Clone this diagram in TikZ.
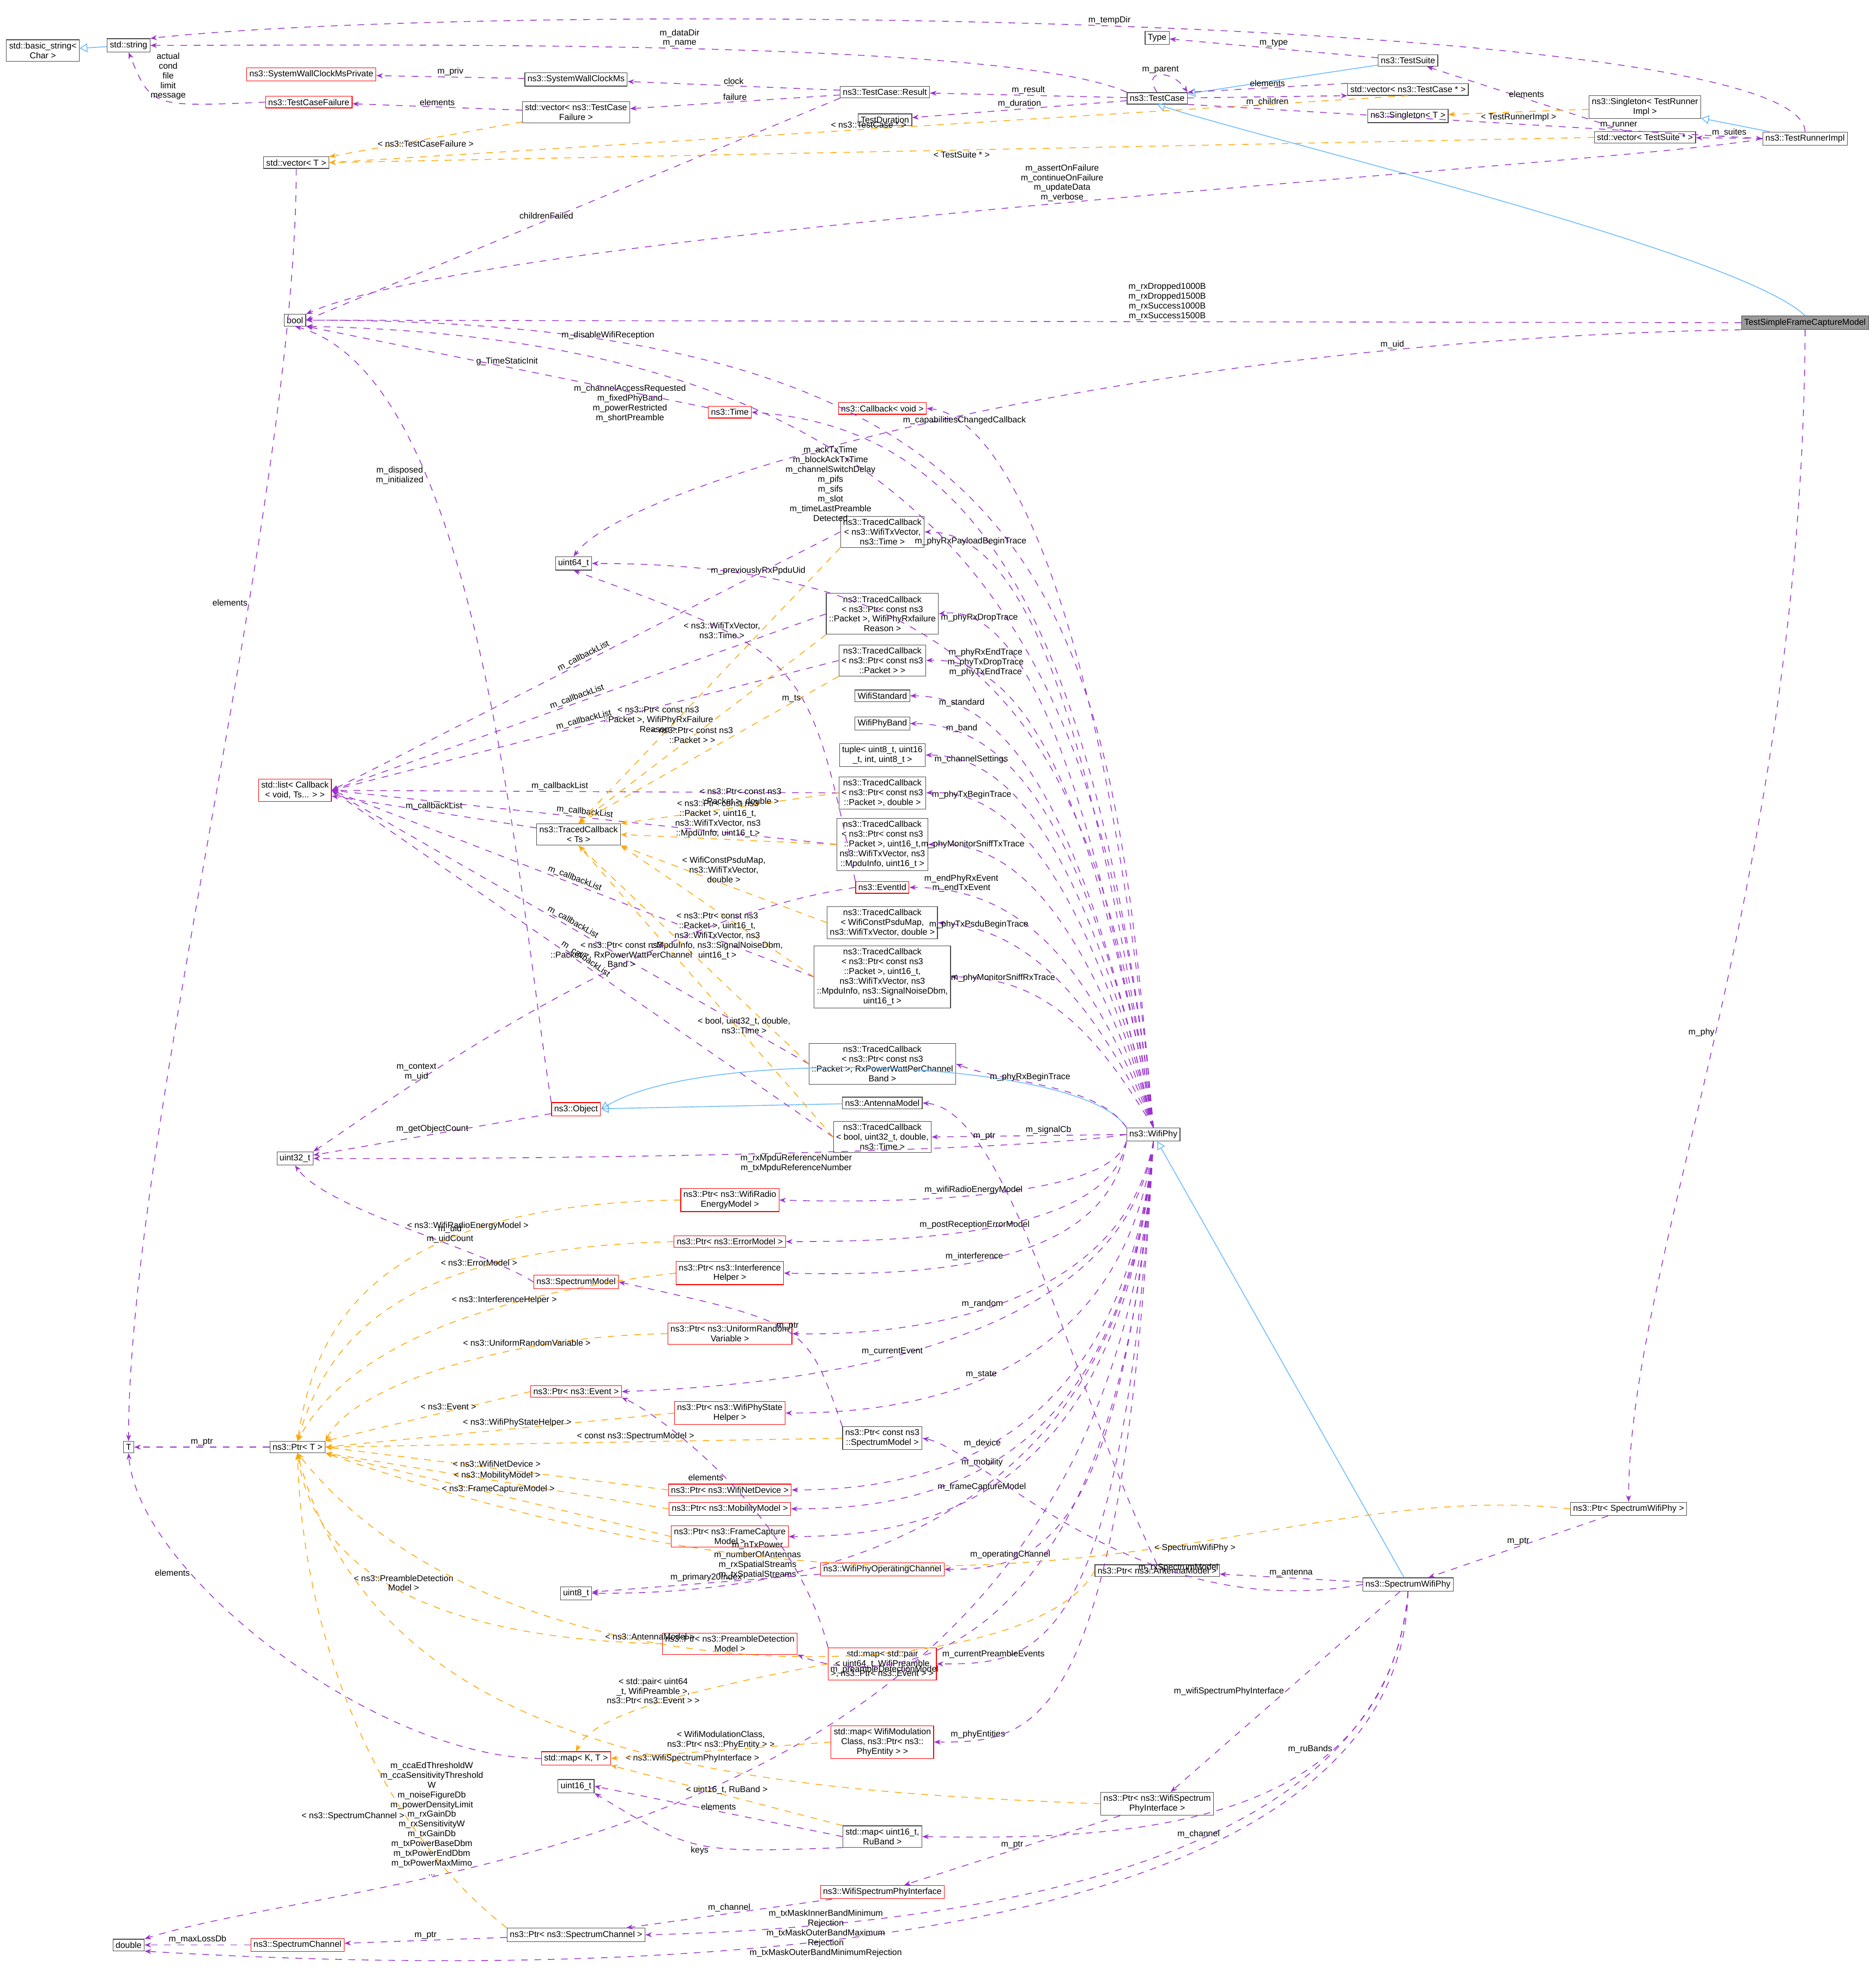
\documentclass[tikz,border=0pt]{standalone}
\usepackage{fontspec}
\setmainfont{Liberation Sans}
\usetikzlibrary{arrows.meta}
\definecolor{usecol}{RGB}{154,50,205}
\definecolor{tplcol}{RGB}{255,165,0}
\definecolor{inhcol}{RGB}{99,184,255}
\begin{document}
\begin{tikzpicture}[x=0.02cm,y=-0.02cm,
  box/.style={draw=black!70, fill=white, line width=0.3pt, inner sep=1.2pt, align=center, font=\fontsize{3.9}{4.4}\selectfont},
  redbox/.style={box, draw=red},
  greybox/.style={box, fill=black!40},
  use/.style={dashed, draw=usecol, line width=0.35pt, -{Stealth[length=3pt]}},
  tpl/.style={dashed, draw=tplcol, line width=0.35pt, -{Stealth[length=3pt]}},
  inh/.style={draw=inhcol, line width=0.35pt, -{Triangle[open,length=3.5pt]}},
  lbl/.style={font=\fontsize{3.9}{4.4}\selectfont, align=center, inner sep=0.5pt}]
\useasboundingbox[fill=white] (0,0) rectangle (1488,1570);

% top: test framework
\node[box] (bstring) at (34,40) {std::basic\_string\textless\\Char \textgreater};
\node[box] (string) at (102,36) {std::string};
\node[redbox] (swcpriv) at (247,59) {ns3::SystemWallClockMsPrivate};
\node[redbox] (tcfail) at (245,81) {ns3::TestCaseFailure};
\node[box] (vect) at (235,129) {std::vector\textless{} T \textgreater};
\node[box] (bool) at (234,254) {bool};
\node[box] (swc) at (457,63) {ns3::SystemWallClockMs};
\node[box] (vecfail) at (457,89) {std::vector\textless{} ns3::TestCase\\Failure \textgreater};
\node[box] (result) at (702,73) {ns3::TestCase::Result};
\node[box] (duration) at (702,95) {TestDuration};
\node[box] (type) at (918,30) {Type};
\node[box] (testcase) at (918,78) {ns3::TestCase};
\node[box] (suite) at (1117,48) {ns3::TestSuite};
\node[box] (veccase) at (1117,71) {std::vector\textless{} ns3::TestCase * \textgreater};
\node[box] (singleton) at (1117,92) {ns3::Singleton\textless{} T \textgreater};
\node[box] (singtri) at (1305,85) {ns3::Singleton\textless{} TestRunner\\Impl \textgreater};
\node[box] (vecsuite) at (1305,109) {std::vector\textless{} TestSuite * \textgreater};
\node[box] (runner) at (1432,110) {ns3::TestRunnerImpl};
\node[greybox] (model) at (1432,256) {TestSimpleFrameCaptureModel};

% left column
\node[box] (u64) at (455,447) {uint64\_t};
\node[redbox] (cblist) at (234,627) {std::list\textless{} Callback\\\textless{} void, Ts... \textgreater{} \textgreater};
\node[box] (tcts) at (459,662) {ns3::TracedCallback\\\textless{} Ts \textgreater};
\node[box] (u32) at (234,919) {uint32\_t};
\node[redbox] (object) at (457,880) {ns3::Object};
\node[redbox] (specmodel) at (457,1017) {ns3::SpectrumModel};
\node[box] (ptrt) at (236,1148) {ns3::Ptr\textless{} T \textgreater};
\node[box] (tt) at (102,1148) {T};
\node[box] (u8) at (457,1264) {uint8\_t};
\node[redbox] (mapkt) at (457,1395) {std::map\textless{} K, T \textgreater};
\node[box] (u16) at (457,1417) {uint16\_t};
\node[box] (double) at (102,1543) {double};
\node[redbox] (specchan) at (236,1543) {ns3::SpectrumChannel};
\node[box] (ptrchan) at (457,1535) {ns3::Ptr\textless{} ns3::SpectrumChannel \textgreater};

% middle column
\node[redbox] (time) at (579,327) {ns3::Time};
\node[redbox] (callback) at (700,324) {ns3::Callback\textless{} void \textgreater};
\node[box] (tctx) at (700,422) {ns3::TracedCallback\\\textless{} ns3::WifiTxVector,\\ ns3::Time \textgreater};
\node[box] (tcdrop) at (700,487) {ns3::TracedCallback\\\textless{} ns3::Ptr\textless{} const ns3\\::Packet \textgreater, WifiPhyRxfailure\\Reason \textgreater};
\node[box] (tcpkt) at (700,524) {ns3::TracedCallback\\\textless{} ns3::Ptr\textless{} const ns3\\::Packet \textgreater{} \textgreater};
\node[box] (standard) at (700,552) {WifiStandard};
\node[box] (band) at (700,574) {WifiPhyBand};
\node[box] (tuple) at (700,599) {tuple\textless{} uint8\_t, uint16\\\_t, int, uint8\_t \textgreater};
\node[box] (tcdbl) at (700,629) {ns3::TracedCallback\\\textless{} ns3::Ptr\textless{} const ns3\\::Packet \textgreater, double \textgreater};
\node[box] (tcstx) at (700,670) {ns3::TracedCallback\\\textless{} ns3::Ptr\textless{} const ns3\\::Packet \textgreater, uint16\_t,\\ ns3::WifiTxVector, ns3\\::MpduInfo, uint16\_t \textgreater};
\node[redbox] (eventid) at (700,704) {ns3::EventId};
\node[box] (tcpsdu) at (700,732) {ns3::TracedCallback\\\textless{} WifiConstPsduMap,\\ ns3::WifiTxVector, double \textgreater};
\node[box] (tcsrx) at (700,775) {ns3::TracedCallback\\\textless{} ns3::Ptr\textless{} const ns3\\::Packet \textgreater, uint16\_t,\\ ns3::WifiTxVector, ns3\\::MpduInfo, ns3::SignalNoiseDbm,\\ uint16\_t \textgreater};
\node[box] (tcpow) at (700,844) {ns3::TracedCallback\\\textless{} ns3::Ptr\textless{} const ns3\\::Packet \textgreater, RxPowerWattPerChannel\\Band \textgreater};
\node[box] (antenna) at (700,875) {ns3::AntennaModel};
\node[box] (tcbool) at (700,902) {ns3::TracedCallback\\\textless{} bool, uint32\_t, double,\\ ns3::Time \textgreater};
\node[box] (wifiphy) at (915,900) {ns3::WifiPhy};
\node[redbox] (penergy) at (579,952) {ns3::Ptr\textless{} ns3::WifiRadio\\EnergyModel \textgreater};
\node[redbox] (perror) at (579,985) {ns3::Ptr\textless{} ns3::ErrorModel \textgreater};
\node[redbox] (pinterf) at (579,1010) {ns3::Ptr\textless{} ns3::Interference\\Helper \textgreater};
\node[redbox] (prandom) at (579,1058) {ns3::Ptr\textless{} ns3::UniformRandom\\Variable \textgreater};
\node[redbox] (pevent) at (457,1104) {ns3::Ptr\textless{} ns3::Event \textgreater};
\node[redbox] (pstate) at (579,1121) {ns3::Ptr\textless{} ns3::WifiPhyState\\Helper \textgreater};
\node[box] (pspecmodel) at (700,1141) {ns3::Ptr\textless{} const ns3\\::SpectrumModel \textgreater};
\node[redbox] (pdevice) at (579,1182) {ns3::Ptr\textless{} ns3::WifiNetDevice \textgreater};
\node[redbox] (pmobility) at (579,1197) {ns3::Ptr\textless{} ns3::MobilityModel \textgreater};
\node[redbox] (pcapture) at (579,1219) {ns3::Ptr\textless{} ns3::FrameCapture\\Model \textgreater};
\node[redbox] (opchan) at (700,1245) {ns3::WifiPhyOperatingChannel};
\node[redbox] (ppreamble) at (579,1304) {ns3::Ptr\textless{} ns3::PreambleDetection\\Model \textgreater};
\node[redbox] (mappre) at (700,1320) {std::map\textless{} std::pair\\\textless{} uint64\_t, WifiPreamble\\ \textgreater, ns3::Ptr\textless{} ns3::Event \textgreater{} \textgreater};
\node[redbox] (mapmod) at (700,1382) {std::map\textless{} WifiModulation\\Class, ns3::Ptr\textless{} ns3::\\PhyEntity \textgreater{} \textgreater};
\node[box] (mapru) at (700,1457) {std::map\textless{} uint16\_t,\\ RuBand \textgreater};
\node[redbox] (wspi) at (700,1501) {ns3::WifiSpectrumPhyInterface};
\node[box] (pantenna) at (918,1246) {ns3::Ptr\textless{} ns3::AntennaModel \textgreater};
\node[box] (pwspi) at (918,1431) {ns3::Ptr\textless{} ns3::WifiSpectrum\\PhyInterface \textgreater};
\node[box] (swphy) at (1117,1257) {ns3::SpectrumWifiPhy};
\node[box] (pswphy) at (1292,1197) {ns3::Ptr\textless{} SpectrumWifiPhy \textgreater};

% inheritance
\draw[inh] (string) -- (bstring);
\draw[inh] (suite) -- (testcase);
\draw[inh] (model.north) .. controls (1380,200) and (1000,110) .. (testcase.south);
\draw[inh] (runner) -- (singtri);
\draw[inh] (wifiphy.north west) .. controls (860,840) and (560,830) .. (object.east);
\draw[inh] (antenna) -- (object);
\draw[inh] (swphy) -- (wifiphy);

% test framework members
\draw[use] (runner.north) .. controls (1430,10) and (400,0) .. node[lbl,pos=0.5,above] {m\_tempDir} (string.north east);
\draw[use] (testcase.north west) .. controls (800,30) and (300,36) .. node[lbl,pos=0.5,above] {m\_dataDir\\m\_name} (string.east);
\draw[use] (testcase.north) .. controls (905,55) and (930,55) .. node[lbl,pos=0.5,above] {m\_parent} (testcase.north east);
\draw[use] (suite) -- node[lbl,above] {m\_type} (type);
\draw[use] (testcase) -- node[lbl,above] {m\_result} (result);
\draw[use] (testcase) -- node[lbl,above] {m\_duration} (duration);
\draw[use] (testcase) -- node[lbl,below] {m\_children} (veccase.south west);
\draw[use] (veccase.north west) -- node[lbl,above] {elements} (testcase.north east);
\draw[use] (result) -- node[lbl,above] {clock} (swc);
\draw[use] (result) -- node[lbl,above] {failure} (vecfail);
\draw[use] (result.south west) -- node[lbl,pos=0.55,above] {childrenFailed} (bool.east);
\draw[use] (swc) -- node[lbl,above] {m\_priv} (swcpriv);
\draw[use] (vecfail) -- node[lbl,above] {elements} (tcfail);
\draw[use] (tcfail.west) .. controls (120,85) .. node[lbl,pos=0.45,above] {actual\\cond\\file\\limit\\message} (string.south);
\draw[tpl] (vecfail) -- node[lbl,below] {\textless{} ns3::TestCaseFailure \textgreater} (vect);
\draw[tpl] (veccase.south) -- node[lbl,pos=0.5,above] {\textless{} ns3::TestCase * \textgreater} (vect.east);
\draw[tpl] (vecsuite.west) -- node[lbl,pos=0.5,below] {\textless{} TestSuite * \textgreater} (vect.east);
\draw[use] (vecsuite) -- node[lbl,above] {elements} (suite);
\draw[tpl] (singtri) -- node[lbl,below] {\textless{} TestRunnerImpl \textgreater} (singleton);
\draw[use] (runner) -- node[lbl,above] {m\_suites} (vecsuite);
\draw[use] (testcase.south east) -- node[lbl,pos=0.75,above] {m\_runner} (runner.west);
\draw[use] (runner.west) .. controls (1300,130) and (400,180) .. node[lbl,pos=0.5,above] {m\_assertOnFailure\\m\_continueOnFailure\\m\_updateData\\m\_verbose} (bool.north east);
\draw[use] (vect.south) .. controls (235,400) and (102,900) .. node[lbl,pos=0.35,left] {elements} (tt.north);
\draw[use] (model.west) -- node[lbl,pos=0.4,above] {m\_rxDropped1000B\\m\_rxDropped1500B\\m\_rxSuccess1000B\\m\_rxSuccess1500B} (bool.east);
\draw[use] (model.south west) .. controls (900,270) and (500,380) .. node[lbl,pos=0.2,above] {m\_uid} (u64.north);
\draw[use] (model.south) .. controls (1430,700) and (1292,1000) .. node[lbl,pos=0.5,left] {m\_phy} (pswphy.north);

% WifiPhy members
\draw[use] (wifiphy.north) .. controls (880,500) and (860,254) .. node[lbl,pos=0.85,above] {m\_disableWifiReception} (bool.east);
\draw[use] (wifiphy.north) .. controls (875,560) and (800,270) .. node[lbl,pos=0.78,below left] {m\_channelAccessRequested\\m\_fixedPhyBand\\m\_powerRestricted\\m\_shortPreamble} (bool.south east);
\draw[use] (time) -- node[lbl,pos=0.5,above] {g\_TimeStaticInit} (bool.south east);
\draw[use] (wifiphy.north) .. controls (870,500) and (780,340) .. node[lbl,pos=0.8,below left] {m\_ackTxTime\\m\_blockAckTxTime\\m\_channelSwitchDelay\\m\_pifs\\m\_sifs\\m\_slot\\m\_timeLastPreamble\\Detected} (time.east);
\draw[use] (wifiphy.north) .. controls (880,500) and (800,330) .. node[lbl,pos=0.85,above] {m\_capabilitiesChangedCallback} (callback.east);
\draw[use] (wifiphy.north) .. controls (870,600) and (820,422) .. node[lbl,pos=0.85,above] {m\_phyRxPayloadBeginTrace} (tctx.east);
\draw[use] (wifiphy.north) .. controls (870,600) and (800,447) .. node[lbl,pos=0.85,above] {m\_previouslyRxPpduUid} (u64.east);
\draw[use] (wifiphy.north) .. controls (870,650) and (820,477) .. node[lbl,pos=0.85,above] {m\_phyRxDropTrace} (tcdrop.east);
\draw[use] (wifiphy.north) .. controls (870,650) and (820,520) .. node[lbl,pos=0.8,above] {m\_phyRxEndTrace\\m\_phyTxDropTrace\\m\_phyTxEndTrace} (tcpkt.east);
\draw[use] (wifiphy.north) .. controls (870,700) and (820,552) .. node[lbl,pos=0.85,above] {m\_standard} (standard.east);
\draw[use] (wifiphy.north) .. controls (870,700) and (820,574) .. node[lbl,pos=0.85,above] {m\_band} (band.east);
\draw[use] (wifiphy.north) .. controls (870,720) and (820,599) .. node[lbl,pos=0.85,above] {m\_channelSettings} (tuple.east);
\draw[use] (wifiphy.north) .. controls (870,740) and (820,625) .. node[lbl,pos=0.85,above] {m\_phyTxBeginTrace} (tcdbl.east);
\draw[use] (wifiphy.north) .. controls (870,760) and (820,665) .. node[lbl,pos=0.85,above] {m\_phyMonitorSniffTxTrace} (tcstx.east);
\draw[use] (wifiphy.north) .. controls (870,780) and (820,704) .. node[lbl,pos=0.85,above] {m\_endPhyRxEvent\\m\_endTxEvent} (eventid.east);
\draw[use] (wifiphy.north) .. controls (870,800) and (820,737) .. node[lbl,pos=0.85,above] {m\_phyTxPsduBeginTrace} (tcpsdu.east);
\draw[use] (wifiphy.north) .. controls (870,820) and (830,775) .. node[lbl,pos=0.8,above] {m\_phyMonitorSniffRxTrace} (tcsrx.east);
\draw[use] (wifiphy.north west) .. controls (870,860) and (800,860) .. node[lbl,pos=0.6,above] {m\_phyRxBeginTrace} (tcpow.east);
\draw[use] (wifiphy.west) -- node[lbl,pos=0.4,above] {m\_signalCb} (tcbool.east);
\draw[use] (wifiphy.west) .. controls (800,915) and (400,920) .. node[lbl,pos=0.45,below] {m\_rxMpduReferenceNumber\\m\_txMpduReferenceNumber} (u32.east);
\draw[use] (wifiphy.south west) .. controls (880,950) and (720,955) .. node[lbl,pos=0.55,above] {m\_wifiRadioEnergyModel} (penergy.east);
\draw[use] (wifiphy.south west) .. controls (880,980) and (720,985) .. node[lbl,pos=0.55,above] {m\_postReceptionErrorModel} (perror.east);
\draw[use] (wifiphy.south west) .. controls (880,1010) and (720,1012) .. node[lbl,pos=0.55,above] {m\_interference} (pinterf.east);
\draw[use] (wifiphy.south) .. controls (890,1040) and (720,1060) .. node[lbl,pos=0.55,above] {m\_random} (prandom.east);
\draw[use] (wifiphy.south) .. controls (890,1080) and (600,1100) .. node[lbl,pos=0.55,above] {m\_currentEvent} (pevent.east);
\draw[use] (wifiphy.south) .. controls (890,1100) and (720,1121) .. node[lbl,pos=0.55,above] {m\_state} (pstate.east);
\draw[use] (wifiphy.south) .. controls (890,1160) and (720,1182) .. node[lbl,pos=0.55,above] {m\_device} (pdevice.east);
\draw[use] (wifiphy.south) .. controls (890,1180) and (720,1197) .. node[lbl,pos=0.55,above] {m\_mobility} (pmobility.east);
\draw[use] (wifiphy.south) .. controls (890,1200) and (720,1219) .. node[lbl,pos=0.55,above] {m\_frameCaptureModel} (pcapture.east);
\draw[use] (wifiphy.south) .. controls (890,1230) and (820,1245) .. node[lbl,pos=0.75,above] {m\_operatingChannel} (opchan.east);
\draw[use] (wifiphy.south) .. controls (890,1260) and (560,1264) .. node[lbl,pos=0.7,above] {m\_nTxPower\\m\_numberOfAntennas\\m\_rxSpatialStreams\\m\_txSpatialStreams} (u8.east);
\draw[use] (wifiphy.south) .. controls (890,1320) and (820,1320) .. node[lbl,pos=0.8,above] {m\_currentPreambleEvents} (mappre.east);
\draw[use] (wifiphy.south) .. controls (890,1330) and (700,1340) .. node[lbl,pos=0.75,below] {m\_preambleDetectionModel} (ppreamble.south east);
\draw[use] (wifiphy.south) .. controls (890,1380) and (820,1382) .. node[lbl,pos=0.85,above] {m\_phyEntities} (mapmod.east);
\draw[use] (wifiphy.south) .. controls (880,1480) and (300,1480) .. node[lbl,pos=0.72,above] {m\_ccaEdThresholdW\\m\_ccaSensitivityThreshold\\W\\m\_noiseFigureDb\\m\_powerDensityLimit\\m\_rxGainDb\\m\_rxSensitivityW\\m\_txGainDb\\m\_txPowerBaseDbm\\m\_txPowerEndDbm\\m\_txPowerMaxMimo\\...} (double.north east);

% traced callbacks
\foreach \tc/\p in {tctx/0.5,tcdrop/0.5,tcpkt/0.5,tcdbl/0.55,tcstx/0.5,tcsrx/0.5,tcpow/0.5,tcbool/0.5}
  \draw[use] (\tc.west) -- node[lbl,pos=\p,above,sloped] {m\_callbackList} (cblist.east);
\draw[use] (tcts) -- node[lbl,above] {m\_callbackList} (cblist);
\draw[tpl] (tctx.south west) -- node[lbl,pos=0.3,left] {\textless{} ns3::WifiTxVector,\\ns3::Time \textgreater} (tcts.north);
\draw[tpl] (tcdrop.south west) -- node[lbl,pos=0.45,left] {\textless{} ns3::Ptr\textless{} const ns3\\::Packet \textgreater, WifiPhyRxFailure\\Reason \textgreater} (tcts.north);
\draw[tpl] (tcpkt.south west) -- node[lbl,pos=0.4,left] {\textless{} ns3::Ptr\textless{} const ns3\\::Packet \textgreater{} \textgreater} (tcts.north);
\draw[tpl] (tcdbl.west) -- node[lbl,pos=0.45,above] {\textless{} ns3::Ptr\textless{} const ns3\\::Packet \textgreater, double \textgreater} (tcts.north east);
\draw[tpl] (tcstx.west) -- node[lbl,pos=0.55,above] {\textless{} ns3::Ptr\textless{} const ns3\\::Packet \textgreater, uint16\_t,\\ns3::WifiTxVector, ns3\\::MpduInfo, uint16\_t \textgreater} (tcts.east);
\draw[tpl] (tcpsdu.west) -- node[lbl,pos=0.5,above] {\textless{} WifiConstPsduMap,\\ns3::WifiTxVector,\\double \textgreater} (tcts.south east);
\draw[tpl] (tcsrx.west) -- node[lbl,pos=0.5,below] {\textless{} ns3::Ptr\textless{} const ns3\\::Packet \textgreater, uint16\_t,\\ns3::WifiTxVector, ns3\\::MpduInfo, ns3::SignalNoiseDbm,\\uint16\_t \textgreater} (tcts.south east);
\draw[tpl] (tcpow.west) -- node[lbl,pos=0.5,left] {\textless{} ns3::Ptr\textless{} const ns3\\::Packet \textgreater, RxPowerWattPerChannel\\Band \textgreater} (tcts.south);
\draw[tpl] (tcbool.west) -- node[lbl,pos=0.35,above] {\textless{} bool, uint32\_t, double,\\ns3::Time \textgreater} (tcts.south);
\draw[use] (eventid.north west) .. controls (640,520) .. node[lbl,pos=0.4,left] {m\_ts} (u64.south);
\draw[use] (eventid.west) .. controls (500,730) and (300,880) .. node[lbl,pos=0.7,above] {m\_context\\m\_uid} (u32.north east);
\draw[use] (object.north west) .. controls (410,700) and (380,300) .. node[lbl,pos=0.7,left] {m\_disposed\\m\_initialized} (bool.south);
\draw[use] (object) -- node[lbl,above] {m\_getObjectCount} (u32);
\draw[use] (specmodel.west) .. controls (380,990) and (260,960) .. node[lbl,pos=0.35,above] {m\_uid\\m\_uidCount} (u32.south);

% smart pointers
\draw[use] (ptrt) -- node[lbl,above] {m\_ptr} (tt);
\draw[tpl] (penergy.west) .. controls (300,955) and (250,1050) .. node[lbl,pos=0.3,above] {\textless{} ns3::WifiRadioEnergyModel \textgreater} (ptrt.north);
\draw[tpl] (perror.west) .. controls (320,990) and (260,1060) .. node[lbl,pos=0.3,above] {\textless{} ns3::ErrorModel \textgreater} (ptrt.north);
\draw[tpl] (pinterf.west) .. controls (360,1030) and (270,1080) .. node[lbl,pos=0.3,above] {\textless{} ns3::InterferenceHelper \textgreater} (ptrt.north);
\draw[tpl] (prandom.west) .. controls (400,1060) and (280,1100) .. node[lbl,pos=0.3,above] {\textless{} ns3::UniformRandomVariable \textgreater} (ptrt.north east);
\draw[tpl] (pevent.west) -- node[lbl,pos=0.4,above] {\textless{} ns3::Event \textgreater} (ptrt.north east);
\draw[tpl] (pstate.west) -- node[lbl,pos=0.45,above] {\textless{} ns3::WifiPhyStateHelper \textgreater} (ptrt.east);
\draw[tpl] (pspecmodel.west) -- node[lbl,pos=0.4,above] {\textless{} const ns3::SpectrumModel \textgreater} (ptrt.east);
\draw[use] (pspecmodel.north west) .. controls (640,1050) .. node[lbl,pos=0.5,above] {m\_ptr} (specmodel.east);
\draw[tpl] (pdevice.west) -- node[lbl,pos=0.5,above] {\textless{} ns3::WifiNetDevice \textgreater} (ptrt.east);
\draw[tpl] (pmobility.west) -- node[lbl,pos=0.5,above] {\textless{} ns3::MobilityModel \textgreater} (ptrt.south east);
\draw[tpl] (pcapture.west) -- node[lbl,pos=0.5,above] {\textless{} ns3::FrameCaptureModel \textgreater} (ptrt.south east);
\draw[tpl] (ppreamble.west) .. controls (350,1300) and (250,1250) .. node[lbl,pos=0.5,above] {\textless{} ns3::PreambleDetection\\Model \textgreater} (ptrt.south);
\draw[tpl] (pswphy.west) .. controls (1000,1170) and (800,1340) .. node[lbl,pos=0.4,below] {\textless{} SpectrumWifiPhy \textgreater} (ptrt.south east);
\draw[tpl] (pantenna.west) .. controls (820,1340) and (400,1360) .. node[lbl,pos=0.6,above] {\textless{} ns3::AntennaModel \textgreater} (ptrt.south);
\draw[tpl] (pwspi.west) .. controls (600,1420) and (300,1400) .. node[lbl,pos=0.4,above] {\textless{} ns3::WifiSpectrumPhyInterface \textgreater} (ptrt.south);
\draw[tpl] (ptrchan.north west) .. controls (300,1450) and (240,1300) .. node[lbl,pos=0.3,left] {\textless{} ns3::SpectrumChannel \textgreater} (ptrt.south);
\draw[use] (ptrchan) -- node[lbl,above] {m\_ptr} (specchan);
\draw[use] (specchan) -- node[lbl,above] {m\_maxLossDb} (double);
\draw[use] (opchan) -- node[lbl,above] {m\_primary20Index} (u8);

% maps
\draw[use] (mapkt.west) .. controls (300,1395) and (110,1250) .. node[lbl,pos=0.7,left] {elements} (tt.south);
\draw[tpl] (mappre.west) .. controls (550,1340) and (470,1360) .. node[lbl,pos=0.35,left] {\textless{} std::pair\textless{} uint64\\\_t, WifiPreamble \textgreater,\\ns3::Ptr\textless{} ns3::Event \textgreater{} \textgreater} (mapkt.north);
\draw[use] (mappre.north west) .. controls (630,1200) and (520,1120) .. node[lbl,pos=0.5,left] {elements} (pevent.south east);
\draw[tpl] (mapmod.west) -- node[lbl,pos=0.5,above] {\textless{} WifiModulationClass,\\ns3::Ptr\textless{} ns3::PhyEntity \textgreater{} \textgreater} (mapkt.east);
\draw[tpl] (mapru.north west) -- node[lbl,pos=0.5,above] {\textless{} uint16\_t, RuBand \textgreater} (mapkt.south east);
\draw[use] (mapru.west) -- node[lbl,pos=0.5,above] {elements} (u16.east);
\draw[use] (mapru.south west) .. controls (550,1470) .. node[lbl,pos=0.5,below] {keys} (u16.south east);

% SpectrumWifiPhy members
\draw[use] (pswphy) -- node[lbl,above] {m\_ptr} (swphy);
\draw[use] (swphy) -- node[lbl,above] {m\_antenna} (pantenna);
\draw[use] (pantenna.north) .. controls (850,1100) and (800,880) .. node[lbl,pos=0.8,right] {m\_ptr} (antenna.east);
\draw[use] (swphy.west) .. controls (900,1290) and (780,1150) .. node[lbl,pos=0.3,above] {m\_rxSpectrumModel} (pspecmodel.east);
\draw[use] (swphy) -- node[lbl,pos=0.5,left] {m\_wifiSpectrumPhyInterface} (pwspi);
\draw[use] (pwspi) -- node[lbl,above] {m\_ptr} (wspi);
\draw[use] (swphy.south) .. controls (1100,1450) and (900,1460) .. node[lbl,pos=0.3,left] {m\_ruBands} (mapru.east);
\draw[use] (swphy.south) .. controls (1100,1500) and (700,1530) .. node[lbl,pos=0.4,above] {m\_channel} (ptrchan.east);
\draw[use] (wspi) -- node[lbl,above] {m\_channel} (ptrchan);
\draw[use] (swphy.south) .. controls (1110,1580) and (400,1565) .. node[lbl,pos=0.55,above,yshift=-8pt] {m\_txMaskInnerBandMinimum\\Rejection\\m\_txMaskOuterBandMaximum\\Rejection\\m\_txMaskOuterBandMinimumRejection} (double.south east);
\end{tikzpicture}
\end{document}
